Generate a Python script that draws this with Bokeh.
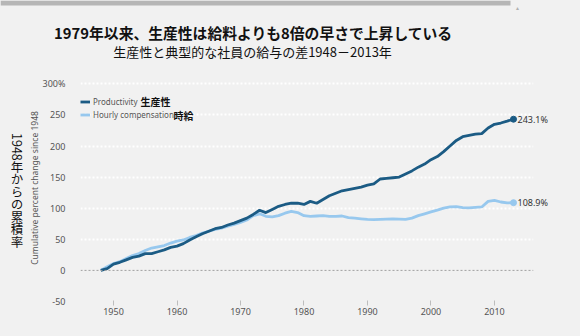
import math
from bokeh.plotting import figure
from bokeh.layouts import column, row
from bokeh.models import (Range1d, FixedTicker, CustomJSTickFormatter, Span, Label, Div,
                          BoxAnnotation, Legend, LegendItem, ColumnDataSource, LinearAxis)
from bokeh.embed import file_html
from bokeh.resources import INLINE
from bokeh.core.properties import value

# ---------------- data ----------------
years = list(range(1948, 2014))
productivity = [
    0, 3,                                            # 1948-49
    10, 13, 17, 21, 23, 27, 27, 30, 33, 37,          # 1950s
    39, 43, 49, 54, 59, 63, 67, 69, 73, 76,          # 1960s
    80, 84, 90, 96.7, 93, 98, 103, 106, 108, 108,    # 1970s
    106, 111, 108, 114, 120, 124, 128, 130, 132, 134,  # 1980s
    137, 139, 147, 148, 149, 150, 155, 160, 166, 171,  # 1990s
    178, 183, 191, 200, 209, 215, 217, 219, 220, 229,  # 2000s
    235, 237, 240, 243.1,                            # 2010-13
]
compensation = [
    0, 6,
    11, 14, 19, 24, 27, 32, 36, 38, 40, 44,
    47, 49, 53, 56, 60, 63, 66, 68, 71, 74,
    77, 81, 88, 91, 87, 86, 88, 92, 95, 93,
    88, 87, 87.5, 88, 87, 87, 87.5, 85, 84, 83,
    82, 81.5, 82, 82.5, 83, 82.5, 82, 84, 88, 91,
    94, 97, 100, 102, 102.5, 101, 100.5, 101.5, 102, 111,
    112.5, 110, 108.5, 108.9,
]
series_names = ["Productivity", "Hourly compensation"]
series_names_ja = ["生産性", "時給"]
x_ticks = [1950, 1960, 1970, 1980, 1990, 2000, 2010]
y_ticks = [-50, 0, 50, 100, 150, 200, 250, 300]

title_text = "1979年以来、生産性は給料よりも8倍の早さで上昇している"
subtitle_text = "生産性と典型的な社員の給与の差1948－2013年"
ylabel_en = "Cumulative percent change since 1948"
ylabel_ja = "1948年からの累積率"

# ---------------- styling / layout ----------------
BG = "#f1f1f1"
DARK = "#1b5b84"
LIGHT = "#97c8ee"
W, H = 580, 336
TOP_H = 74            # height of the title strip
LEFT_W = 24           # width of the vertical japanese label strip
FL, FR, FT, FB = 80, 533, 74, 301  # frame pixel edges (page coords)
X0, X1 = 1944.8, 2016.15
Y0, Y1 = -50, 315
EN_FONT = "Noto Sans"
JA_FONT = "Noto Sans CJK JP"
CSS = {"background-color": BG}


def dx(px):
    return X0 + (px - FL) * (X1 - X0) / (FR - FL)


def dy(py):
    return Y1 - (py - FT) * (Y1 - Y0) / (FB - FT)


# ---------- title strip (page pixel coordinates) ----------
t = figure(width=W, height=TOP_H, output_backend="svg", toolbar_location=None,
           x_range=Range1d(0, W), y_range=Range1d(TOP_H, 0),
           x_axis_location=None, y_axis_location=None, min_border=0, styles=CSS)
t.grid.visible = False
t.outline_line_color = None
t.background_fill_color = BG
t.border_fill_color = BG
t.add_layout(BoxAnnotation(left=0, right=510, top=0, bottom=5,
                           fill_color="#b6b6b6", fill_alpha=1, line_color=None))
t.text(x=[517], y=[7], text=["▲"], text_align="center", text_baseline="middle",
       text_font=value(EN_FONT), text_font_size="5px", text_color="#b0b0b0")
t.text(x=[253], y=[32], text=[title_text], text_align="center", text_baseline="middle",
       text_font=value(JA_FONT), text_font_size="14.8px", text_font_style="bold",
       text_color="#111111")
t.text(x=[252], y=[50.5], text=[subtitle_text], text_align="center", text_baseline="middle",
       text_font=value(JA_FONT), text_font_size="13px", text_color="#111111")

# ---------- vertical japanese label (vertical writing) ----------
lft = Div(text=(f'<div style="writing-mode:vertical-rl; text-orientation:mixed; '
                f'font-family:\'{JA_FONT}\'; font-size:12.5px; line-height:1; color:#111111; '
                f'margin:0; padding:0; position:absolute; left:10px; top:{133 - TOP_H}px;">'
                f'{ylabel_ja}</div>'),
          width=LEFT_W, height=H - TOP_H,
          styles={"background-color": BG, "margin": "0", "padding": "0",
                  "position": "relative", "overflow": "visible"})

# ---------- main chart ----------
p = figure(width=W - LEFT_W, height=H - TOP_H, output_backend="svg", toolbar_location=None,
           x_range=Range1d(X0, X1), y_range=Range1d(Y0, Y1),
           min_border_left=FL - LEFT_W, min_border_right=W - FR,
           min_border_top=0, min_border_bottom=H - FB, styles=CSS)
p.background_fill_color = BG
p.border_fill_color = BG
p.outline_line_color = None

# grid
p.xgrid.grid_line_color = None
p.ygrid.ticker = FixedTicker(ticks=[v for v in y_ticks if v != 0])
p.ygrid.grid_line_color = "#ffffff"
p.ygrid.grid_line_width = 2
p.ygrid.grid_line_dash = "2 2"
p.add_layout(Span(location=0, dimension="width", line_color="#a0a0a0",
                  line_width=1, line_dash="2 2"))

# axes
p.xaxis.ticker = FixedTicker(ticks=x_ticks)
p.xaxis.axis_line_color = None
p.xaxis.major_tick_line_color = "#bdbdbd"
p.xaxis.major_tick_in = 1
p.xaxis.major_tick_out = 4
p.xaxis.minor_tick_line_color = None
p.xaxis.major_label_standoff = 2
p.xaxis.major_label_text_font = EN_FONT
p.xaxis.major_label_text_font_size = "9px"
p.xaxis.major_label_text_color = "#555555"

p.yaxis.ticker = FixedTicker(ticks=y_ticks)
p.yaxis.formatter = CustomJSTickFormatter(code="return tick == 300 ? tick + '%' : tick.toString();")
p.yaxis.axis_line_color = None
p.yaxis.major_tick_line_color = None
p.yaxis.major_tick_in = 0
p.yaxis.major_tick_out = 0
p.yaxis.minor_tick_line_color = None
p.yaxis.minor_tick_out = 0
p.yaxis.major_label_standoff = 15
p.yaxis.major_label_text_font = EN_FONT
p.yaxis.major_label_text_font_size = "9px"
p.yaxis.major_label_text_color = "#555555"
p.yaxis.axis_label = ylabel_en
p.yaxis.axis_label_text_font = EN_FONT
p.yaxis.axis_label_text_font_size = "8.5px"
p.yaxis.axis_label_text_font_style = "normal"
p.yaxis.axis_label_text_color = "#555555"
p.yaxis.axis_label_standoff = 0

# lines
src = ColumnDataSource(dict(x=years, prod=productivity, comp=compensation))
r_comp = p.line("x", "comp", source=src, line_color=LIGHT, line_width=2.8)
r_prod = p.line("x", "prod", source=src, line_color=DARK, line_width=2.8)
end_src = ColumnDataSource(dict(
    x=[years[-1], years[-1]],
    y=[productivity[-1], compensation[-1]],
    c=[DARK, LIGHT],
))
p.scatter("x", "y", source=end_src, size=6, color="c")

# end value labels: an axis on the right whose ticks are the last values
end_axis = LinearAxis(ticker=FixedTicker(ticks=[productivity[-1], compensation[-1]]),
                      formatter=CustomJSTickFormatter(code="return tick.toFixed(1) + '%';"),
                      axis_line_color=None, major_tick_line_color=None,
                      minor_tick_line_color=None, major_tick_in=0, major_tick_out=0,
                      minor_tick_out=0, major_label_standoff=-(FR - 517),
                      major_label_text_font=EN_FONT, major_label_text_font_size="9px",
                      major_label_text_color="#333333")
p.add_layout(end_axis, "right")

# legend
legend = Legend(items=[LegendItem(label=series_names[0], renderers=[r_prod]),
                       LegendItem(label=series_names[1], renderers=[r_comp])],
                location=(0, 180), orientation="vertical",
                padding=0, margin=0, spacing=0,
                glyph_width=10, glyph_height=13, label_height=13,
                label_standoff=3, label_text_font=EN_FONT,
                label_text_font_size="8px", label_text_color="#555555",
                border_line_color=None, background_fill_alpha=0)
p.add_layout(legend)
p.add_layout(Label(x=dx(140), y=dy(101), text=series_names_ja[0], text_baseline="middle",
                   text_font=JA_FONT, text_font_size="10px",
                   text_font_style="bold", text_color="#111111"))
p.add_layout(Label(x=dx(173), y=dy(114.5), text=series_names_ja[1], text_baseline="middle",
                   text_font=JA_FONT, text_font_size="10px",
                   text_font_style="bold", text_color="#111111"))

layout = column(t, row(lft, p, styles=CSS), styles=CSS)
open("out.html", "w").write(file_html(layout, INLINE))
